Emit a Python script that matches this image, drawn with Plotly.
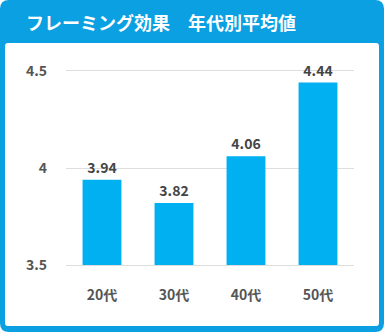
import plotly.graph_objects as go

categories = ["20代", "30代", "40代", "50代"]
values = [3.94, 3.82, 4.06, 4.44]
value_labels = ["3.94", "3.82", "4.06", "4.44"]
axis_min = 3.5
tick_vals = [3.5, 4, 4.5]
tick_text = ["3.5", "4", "4.5"]
title_text = "フレーミング効果　年代別平均値"

W, H = 384, 332
L, R, T, B = 66, 30, 69, 65
pw, ph = W - L - R, H - T - B

def px(x):
    return (x - L) / pw

def py(y):
    return (H - B - y) / ph

def rounded(x0, y0, x1, y1, r):
    def P(x, y):
        return f"{px(x)},{py(y)}"
    return (f"M {P(x0 + r, y0)} L {P(x1 - r, y0)} Q {P(x1, y0)} {P(x1, y0 + r)} "
            f"L {P(x1, y1 - r)} Q {P(x1, y1)} {P(x1 - r, y1)} "
            f"L {P(x0 + r, y1)} Q {P(x0, y1)} {P(x0, y1 - r)} "
            f"L {P(x0, y0 + r)} Q {P(x0, y0)} {P(x0 + r, y0)} Z")

blue = "#0aa0e2"
bar_color = "#00b0f0"
font_fam = "Noto Sans CJK JP, Noto Sans, sans-serif"

fig = go.Figure(go.Bar(
    x=categories, y=[v - axis_min for v in values], base=axis_min,
    marker=dict(color=bar_color, line=dict(width=0)),
    text=value_labels, textposition="outside", cliponaxis=False,
    textfont=dict(family=font_fam, size=14, color="#444444", weight="bold"),
    width=0.54,
))

fig.update_layout(
    width=W, height=H,
    margin=dict(l=L, r=R, t=T, b=B, pad=0),
    paper_bgcolor="white", plot_bgcolor="white",
    showlegend=False,
    shapes=[
        dict(type="path", xref="paper", yref="paper", path=rounded(0, 0, 384, 332, 9),
             fillcolor=blue, line=dict(width=0), layer="below"),
        dict(type="path", xref="paper", yref="paper", path=rounded(5, 43, 379, 326, 3),
             fillcolor="white", line=dict(width=0), layer="below"),
    ],
    annotations=[
        dict(text=title_text, xref="paper", yref="paper", x=px(24), y=py(22),
             xanchor="left", yanchor="middle", showarrow=False,
             font=dict(family=font_fam, size=18, color="white", weight="bold")),
    ],
    xaxis=dict(showgrid=False, showline=False, ticks="", zeroline=False,
               tickfont=dict(family=font_fam, size=14, color="#555555", weight="bold"),
               ticklabelstandoff=18),
    yaxis=dict(range=[3.49, 4.51], tickvals=tick_vals, ticktext=tick_text,
               showgrid=True, gridcolor="#dedede", gridwidth=1, zeroline=False,
               showline=False, ticks="",
               tickfont=dict(family=font_fam, size=14, color="#555555", weight="bold"),
               ticklabelstandoff=18),
    bargap=0.46,
)

fig.write_html("out.html")
